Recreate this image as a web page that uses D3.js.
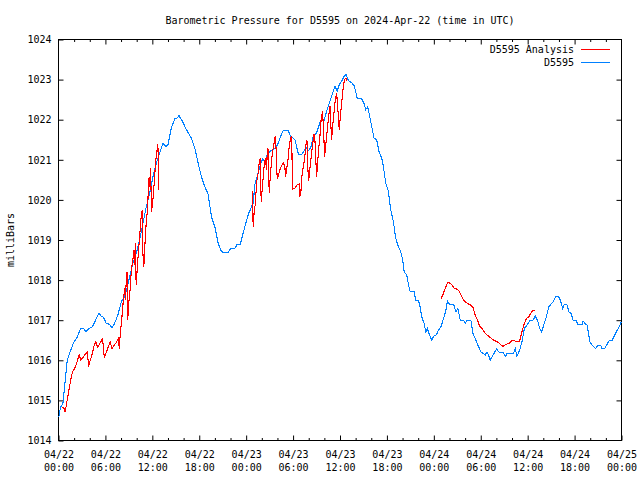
<!DOCTYPE html>
<html>
<head>
<meta charset="utf-8">
<script src="https://cdn.jsdelivr.net/npm/d3@7"></script>
<style>
  html, body { margin: 0; padding: 0; background: #fff; }
  svg { display: block; }
  text { font-family: "DejaVu Sans Mono", "Liberation Mono", monospace; font-size: 10px; fill: #000; }
</style>
</head>
<body>
<svg id="chart" width="640" height="480"></svg>
<script>
// ---- data (hours since 2024-04-22 00:00 UTC) ----
const titleText = "Barometric Pressure for D5595 on 2024-Apr-22 (time in UTC)";
const yLabel = "milliBars";
const seriesNames = ["D5595 Analysis", "D5595"];
const xTickHours = [0, 6, 12, 18, 24, 30, 36, 42, 48, 54, 60, 66, 72];
const xTickLabels = ["04/22 00:00","04/22 06:00","04/22 12:00","04/22 18:00","04/23 00:00","04/23 06:00","04/23 12:00","04/23 18:00","04/24 00:00","04/24 06:00","04/24 12:00","04/24 18:00","04/25 00:00"];
const yTicks = [1014,1015,1016,1017,1018,1019,1020,1021,1022,1023,1024];

const stationHours = [0.04,0.25,0.56,0.82,1.12,1.55,1.98,2.4,2.82,3.25,3.5,3.89,4.31,4.74,5.17,5.47,5.77,6.1,6.54,6.83,7.17,7.6,8.03,8.45,8.75,9.1,9.52,9.95,10.38,10.8,11.23,11.66,12.09,12.52,12.86,13.37,13.71,14.0,14.43,14.86,15.16,15.41,15.84,16.36,17.0,17.43,17.85,18.28,18.71,19.13,19.56,19.99,20.41,20.84,21.27,21.7,22.0,22.55,22.85,23.27,23.61,23.95,24.26,24.68,24.9,25.11,25.41,25.75,26.09,26.39,26.69,27.03,27.37,27.8,28.1,28.4,28.74,29.38,29.68,30.02,30.23,30.45,30.7,31.08,31.39,31.64,31.94,32.24,32.58,33.0,33.35,33.65,33.95,34.29,34.72,35.06,35.36,35.65,35.91,36.21,36.51,36.77,37.07,37.5,37.79,38.05,38.22,38.78,39.07,39.29,39.54,39.84,40.14,40.35,40.69,40.99,41.34,41.55,41.85,42.19,42.49,42.83,43.13,43.47,43.77,44.02,44.2,44.54,44.76,44.97,45.48,45.69,46.03,46.16,46.46,46.76,46.97,47.19,47.44,47.74,47.96,48.3,48.6,48.9,49.24,49.54,49.75,50.01,50.52,50.82,51.08,51.38,51.8,52.02,52.23,52.74,53.0,53.29,53.59,54.02,54.27,54.57,54.79,55.0,55.21,55.55,56.07,56.28,56.92,57.18,57.35,58.21,58.42,58.63,58.97,59.27,59.57,59.92,60.34,60.68,60.98,61.28,61.54,61.8,62.05,62.39,62.69,62.99,63.25,63.55,63.98,64.19,64.49,64.7,65.04,65.26,65.55,65.81,66.24,66.41,66.97,67.1,67.4,67.61,67.95,68.25,68.68,68.98,69.32,69.53,69.83,70.09,70.39,70.82,71.12,71.46,71.8,71.97];
const stationPressure = [1014.58,1014.83,1014.92,1015.42,1016.0,1016.25,1016.46,1016.58,1016.79,1016.79,1016.71,1016.79,1016.83,1017.0,1017.18,1017.1,1017.07,1016.92,1016.9,1016.81,1016.92,1017.13,1017.46,1017.58,1017.79,1018.08,1018.42,1018.67,1019.0,1019.42,1019.83,1020.17,1020.58,1020.92,1021.13,1021.42,1021.33,1021.38,1021.79,1022.02,1022.04,1022.1,1021.96,1021.75,1021.54,1021.29,1020.92,1020.58,1020.33,1020.15,1019.58,1019.33,1018.92,1018.71,1018.68,1018.68,1018.79,1018.79,1018.89,1018.9,1019.17,1019.42,1019.63,1019.83,1019.92,1020.38,1020.58,1020.83,1021.02,1020.96,1021.13,1021.21,1021.25,1021.29,1021.42,1021.58,1021.73,1021.73,1021.58,1021.54,1021.5,1021.33,1021.13,1021.13,1021.21,1021.31,1021.23,1021.29,1021.58,1021.67,1021.88,1022.04,1021.98,1022.21,1022.46,1022.67,1022.83,1022.71,1022.88,1022.96,1023.08,1023.13,1022.98,1022.92,1022.85,1022.67,1022.52,1022.52,1022.4,1022.25,1022.32,1022.04,1021.75,1021.54,1021.5,1021.21,1021.04,1020.83,1020.42,1020.21,1019.75,1019.46,1019.04,1018.83,1018.71,1018.5,1018.21,1018.13,1017.88,1017.71,1017.71,1017.5,1017.48,1017.42,1017.08,1016.92,1016.71,1016.79,1016.63,1016.5,1016.6,1016.63,1016.75,1016.83,1017.04,1017.25,1017.48,1017.4,1017.4,1017.21,1017.29,1017.0,1017.0,1016.92,1017.0,1017.0,1016.67,1016.54,1016.4,1016.21,1016.18,1016.13,1016.21,1016.13,1016.0,1016.13,1016.29,1016.21,1016.18,1016.1,1016.18,1016.18,1016.29,1016.1,1016.25,1016.46,1016.79,1016.88,1017.0,1017.0,1017.1,1016.98,1016.79,1016.71,1016.88,1017.08,1017.33,1017.4,1017.46,1017.58,1017.58,1017.5,1017.29,1017.4,1017.38,1017.21,1017.17,1017.0,1016.98,1016.9,1016.9,1016.98,1016.9,1016.88,1016.46,1016.38,1016.29,1016.38,1016.38,1016.29,1016.29,1016.38,1016.48,1016.5,1016.63,1016.75,1016.88,1016.96];

// analysis series; null separates the three runs
const analysisHours = [0.52,0.73,0.86,1.03,1.29,1.59,1.8,2.14,2.43,2.65,2.86,3.16,3.5,3.71,3.84,4.0,4.27,4.57,4.78,4.99,5.29,5.64,5.85,6.06,6.36,6.62,6.84,7.14,7.44,7.65,7.78,7.91,8.08,8.29,8.46,8.55,8.68,8.76,8.85,8.98,9.15,9.32,9.5,9.67,9.75,9.84,9.93,10.1,10.27,10.44,10.57,10.7,10.78,10.91,11.04,11.21,11.38,11.55,11.64,11.77,11.9,12.07,12.24,12.41,12.58,12.71,12.84,
  null,
  24.77,24.9,25.02,25.19,25.32,25.54,25.66,25.79,25.92,26.05,26.18,26.35,26.48,26.6,26.73,26.86,26.94,27.07,27.24,27.37,27.54,27.71,27.8,27.97,28.14,28.31,28.52,28.74,28.95,29.03,29.16,29.33,29.5,29.67,29.76,29.84,29.93,30.23,30.53,30.78,30.87,31.0,31.13,31.3,31.47,31.64,31.77,31.85,31.98,32.15,32.32,32.5,32.67,32.79,32.92,33.01,33.13,33.26,33.43,33.6,33.77,33.9,34.03,34.2,34.37,34.54,34.72,34.8,34.93,35.06,35.23,35.4,35.57,35.7,35.91,36.08,36.25,36.42,36.59,36.77,36.9,
  null,
  48.9,49.15,49.45,49.75,50.01,50.31,50.61,51.04,51.29,51.59,51.89,52.23,52.66,53.0,53.29,53.59,53.85,54.15,54.44,54.79,55.21,55.64,56.15,56.49,56.83,57.26,57.69,57.99,58.42,58.97,59.27,59.57,59.83,60.13,60.43,60.68,60.98];
const analysisPressure = [1014.83,1014.79,1014.71,1014.92,1015.21,1015.54,1015.71,1015.83,1016.0,1016.13,1016.0,1016.08,1016.17,1016.21,1015.83,1015.96,1016.13,1016.38,1016.46,1016.33,1016.42,1016.54,1016.08,1016.17,1016.33,1016.46,1016.29,1016.38,1016.46,1016.54,1016.29,1016.71,1017.0,1017.5,1017.79,1017.5,1018.04,1018.21,1017.0,1017.42,1017.75,1018.25,1018.5,1018.75,1018.38,1018.92,1017.88,1018.38,1018.83,1019.25,1019.58,1019.75,1018.71,1018.33,1018.83,1019.42,1019.75,1020.54,1020.33,1020.79,1019.71,1020.0,1020.42,1020.92,1021.21,1021.38,1020.25,
  null,
  1020.21,1019.33,1019.71,1019.92,1020.42,1020.67,1020.92,1021.04,1019.96,1020.25,1020.58,1020.96,1021.04,1020.75,1021.29,1021.21,1020.17,1020.54,1020.96,1021.21,1021.38,1021.58,1021.38,1020.52,1020.63,1020.75,1020.85,1020.92,1020.83,1020.58,1020.75,1020.96,1021.33,1021.54,1021.58,1021.38,1020.27,1020.29,1020.38,1020.4,1020.08,1020.21,1020.58,1020.83,1021.0,1021.38,1021.5,1020.96,1020.46,1020.79,1021.08,1021.38,1021.63,1021.5,1020.96,1020.58,1020.88,1021.25,1021.58,1022.04,1022.21,1021.75,1021.08,1021.42,1021.75,1022.08,1022.33,1022.0,1021.5,1021.83,1022.17,1022.5,1022.67,1022.33,1021.75,1022.17,1022.5,1022.83,1023.0,1023.04,1022.96,
  null,
  1017.54,1017.63,1017.79,1017.93,1017.93,1017.88,1017.79,1017.77,1017.71,1017.58,1017.48,1017.43,1017.38,1017.32,1017.13,1017.0,1016.85,1016.79,1016.71,1016.63,1016.57,1016.5,1016.46,1016.4,1016.35,1016.4,1016.43,1016.5,1016.48,1016.48,1016.71,1016.92,1017.04,1017.08,1017.18,1017.25,1017.25];

const colors = { analysis: "#ff0000", station: "#0080ff" };

// ---- layout ----
const svg = d3.select("#chart");
const padL = 58.5, padR = 621.5, padT = 39.5, padB = 440.5;

const x = d3.scaleLinear().domain([0, 72]).range([padL, padR]);
const y = d3.scaleLinear().domain([1014, 1024]).range([padB, padT]);

// title
svg.append("text").attr("x", (padL + padR) / 2).attr("y", 24)
  .attr("text-anchor", "middle").text(titleText);

// y label
svg.append("text").attr("transform", "translate(14,240) rotate(-90)")
  .attr("text-anchor", "middle").text(yLabel);

// axes
const yAxisL = d3.axisLeft(y).tickValues(yTicks).tickFormat(d3.format("d")).tickSizeInner(-5).tickSizeOuter(0).tickPadding(7);
const gyl = svg.append("g").attr("transform", `translate(${padL},0)`).call(yAxisL);
const yAxisR = d3.axisRight(y).tickValues(yTicks.slice(1, -1)).tickFormat("").tickSizeInner(-5).tickSizeOuter(0);
const gyr = svg.append("g").attr("transform", `translate(${padR},0)`).call(yAxisR);

const minorHours = d3.range(0, 73, 2).filter(h => h % 6 !== 0);
const xAxisB = d3.axisBottom(x).tickValues(xTickHours).tickFormat((d, i) => xTickLabels[i]).tickSizeInner(-5).tickSizeOuter(0).tickPadding(9);
const gxb = svg.append("g").attr("transform", `translate(0,${padB})`).call(xAxisB);
const gxbm = svg.append("g").attr("transform", `translate(0,${padB})`)
  .call(d3.axisBottom(x).tickValues(minorHours).tickFormat("").tickSizeInner(-2.5).tickSizeOuter(0));
const gxt = svg.append("g").attr("transform", `translate(0,${padT})`)
  .call(d3.axisTop(x).tickValues(xTickHours.slice(1, -1)).tickFormat("").tickSizeInner(-5).tickSizeOuter(0));
const gxtm = svg.append("g").attr("transform", `translate(0,${padT})`)
  .call(d3.axisTop(x).tickValues(minorHours).tickFormat("").tickSizeInner(-2.5).tickSizeOuter(0));

[gyl, gyr, gxb, gxbm, gxt, gxtm].forEach(g => {
  g.select(".domain").remove();
  g.selectAll("line").attr("stroke", "#000").attr("stroke-width", 1);
  g.attr("font-family", null).attr("font-size", null);
});

// two-line x labels
gxb.selectAll(".tick text").each(function(d, i) {
  const parts = xTickLabels[i].split(" ");
  const t = d3.select(this);
  t.text(null).attr("dy", null).attr("y", 17.5);
  t.append("tspan").attr("x", 0).attr("dy", 0).text(parts[0]);
  t.append("tspan").attr("x", 0).attr("dy", 13).text(parts[1]);
});

// frame
svg.append("rect").attr("x", padL).attr("y", padT)
  .attr("width", padR - padL).attr("height", padB - padT)
  .attr("fill", "none").attr("stroke", "#000").attr("stroke-width", 1);

// lines
const line = d3.line().defined(d => d[0] !== null && d[1] !== null)
  .x(d => x(d[0])).y(d => y(d[1]));

const analysisData = analysisHours.map((h, i) => [h, analysisPressure[i]]);
const stationData = stationHours.map((h, i) => [h, stationPressure[i]]);

svg.append("path").datum(stationData).attr("d", line)
  .attr("fill", "none").attr("stroke", colors.station).attr("stroke-width", 1.1)
  .attr("shape-rendering", "crispEdges");
svg.append("path").datum(analysisData).attr("d", line)
  .attr("fill", "none").attr("stroke", colors.analysis).attr("stroke-width", 1.1)
  .attr("shape-rendering", "crispEdges");

// legend
const legend = [
  { name: seriesNames[0], color: colors.analysis, yy: 49.5 },
  { name: seriesNames[1], color: colors.station, yy: 62.5 }
];
legend.forEach(l => {
  svg.append("text").attr("x", 574).attr("y", l.yy + 3.5).attr("text-anchor", "end").text(l.name);
  svg.append("line").attr("x1", 581).attr("x2", 610).attr("y1", l.yy).attr("y2", l.yy)
    .attr("stroke", l.color).attr("stroke-width", 1);
});
</script>
</body>
</html>
